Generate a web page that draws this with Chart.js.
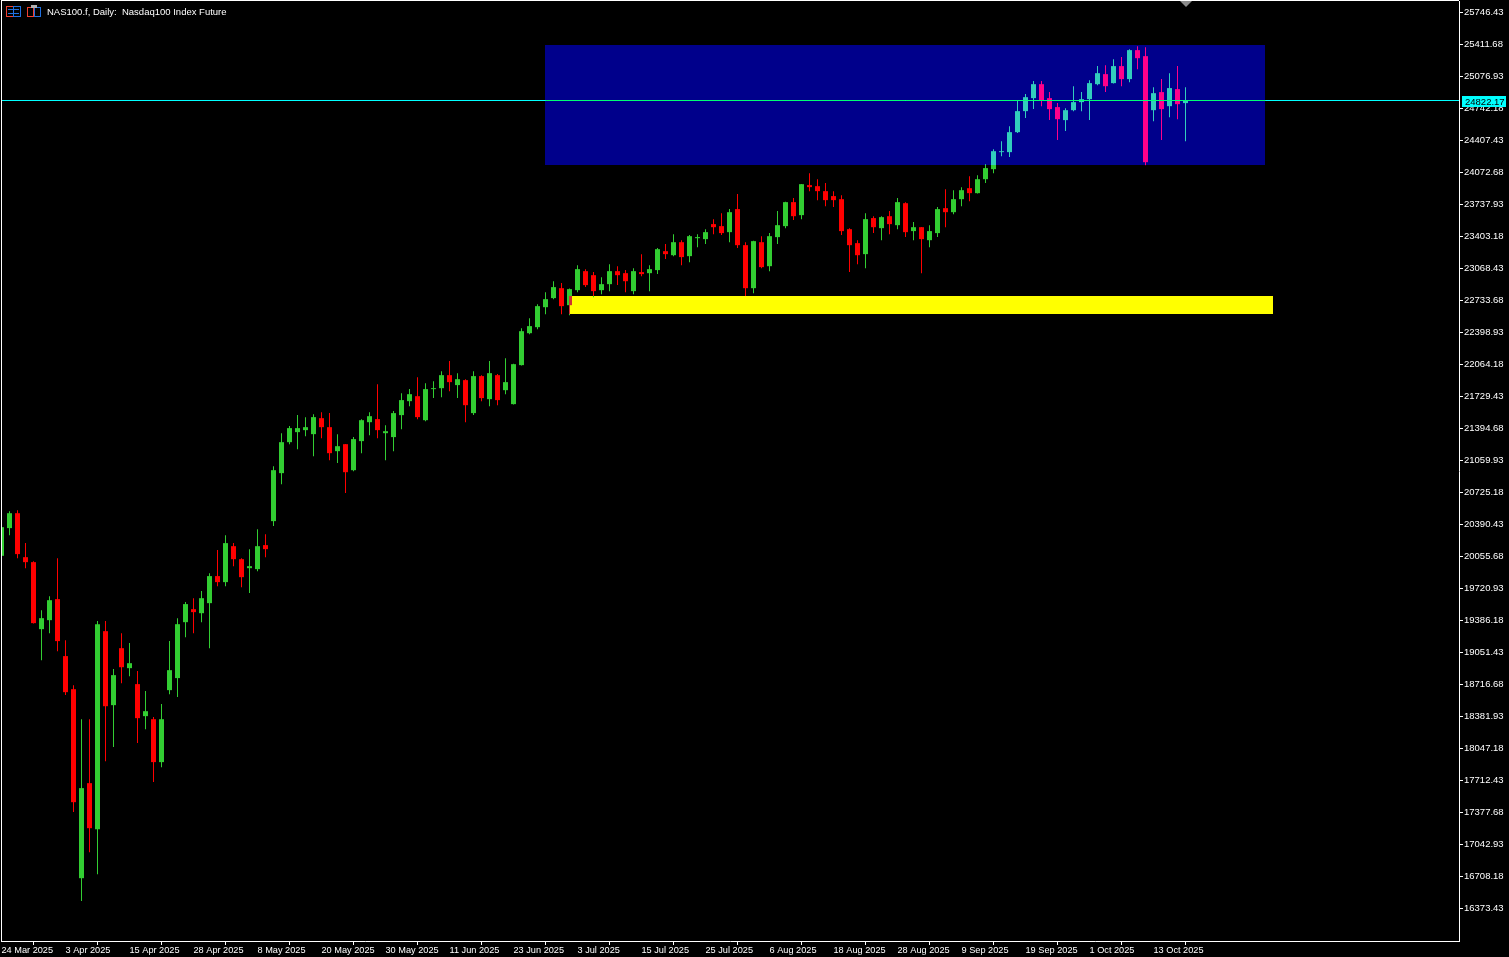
<!DOCTYPE html>
<html lang="en">
<head>
    <meta charset="UTF-8">
    <title>NAS100.f, Daily</title>
    <script src="https://cdn.jsdelivr.net/npm/chart.js"></script>
    <style>
        html, body { margin: 0; padding: 0; background: #000; overflow: hidden; }
        canvas { display: block; }
    </style>
</head>
<body>
    <canvas id="priceChart" width="1509" height="957"></canvas>

    <script>
        const openPrices = [
            20059,20349,20505,20045,19993,19292,19386,19606,19010,18664,
            16687,17681,17200,19271,18497,19093,18884,18717,18382,18350,
            17901,18654,18780,19365,19501,19459,19564,19847,19784,20160,
            20024,19930,19920,20171,20422,20924,21248,21353,21374,21332,
            21499,21405,21154,21227,20955,21259,21457,21489,21342,21301,
            21531,21677,21729,21478,21803,21813,21949,21845,21897,21552,
            21939,21698,21949,21792,21646,22054,22388,22451,22660,22755,
            22859,22681,22838,23037,22995,22838,22901,23037,23016,22828,
            23027,23016,23048,23246,23204,23340,23194,23382,23372,23529,
            23508,23445,23686,23309,22859,23340,23089,23393,23508,23759,
            23623,23937,23926,23874,23822,23790,23476,23330,23215,23592,
            23487,23612,23518,23748,23456,23497,23361,23435,23696,23654,
            23790,23905,23853,23999,24104,24282,24282,24491,24711,24847,
            24993,24847,24753,24617,24721,24805,24836,24993,25098,25004,
            25182,25046,25349,25286,24721,24910,24763,24941,24795
        ];
        const closePrices = [
            20359,20505,20077,19993,19355,19407,19595,19167,18633,17482,
            17629,17210,19344,18486,18811,18894,18936,18361,18434,17901,
            18350,18863,19344,19554,19470,19616,19847,19784,20192,20024,
            19836,19951,20160,20129,20955,21248,21395,21395,21405,21510,
            21405,21133,21206,20934,21280,21478,21520,21374,21363,21552,
            21688,21750,21510,21803,21813,21949,21876,21907,21635,21939,
            21709,21970,21688,21876,22064,22409,22462,22671,22744,22870,
            22671,22849,23058,22891,22828,22901,23037,22995,22932,23037,
            23006,23058,23267,23215,23340,23184,23403,23393,23445,23497,
            23435,23654,23309,22859,23351,23079,23403,23518,23759,23612,
            23947,23916,23874,23780,23780,23456,23309,23204,23581,23497,
            23602,23529,23759,23445,23497,23372,23456,23686,23654,23790,
            23884,23853,23999,24115,24292,24292,24491,24711,24857,24993,
            24826,24732,24627,24721,24805,24836,25004,25108,24972,25182,
            25046,25349,25265,24177,24899,24732,24952,24784,24822
        ];
        const highPrices = [
            20365,20526,20537,20192,20003,19491,19637,20035,19177,18706,
            18350,18350,19376,19376,18874,19250,19146,18853,18644,18372,
            18508,19167,19407,19575,19616,19690,19878,20119,20275,20192,
            20035,20129,20338,20286,20997,21342,21416,21531,21510,21541,
            21562,21552,21332,21230,21301,21489,21562,21855,21426,21573,
            21761,21803,21928,21865,21886,21991,22096,21970,21907,21991,
            21949,22096,21960,22127,22068,22441,22545,22692,22817,22932,
            22912,22855,23100,23058,23027,22974,23110,23089,23048,23068,
            23215,23100,23278,23320,23424,23361,23414,23424,23476,23581,
            23644,23686,23843,23340,23354,23403,23435,23665,23762,23801,
            23950,24062,23999,23958,23874,23832,23487,23361,23644,23612,
            23612,23665,23801,23759,23550,23500,23518,23707,23895,23884,
            23916,24031,24041,24156,24313,24397,24554,24826,24889,25025,
            25025,24910,24795,24742,24972,24910,25035,25182,25192,25255,
            25276,25359,25391,25380,24962,25046,25108,25182,24962
        ];
        const lowPrices = [
            20055,20275,20035,19930,19352,18968,19250,19062,18602,17378,
            16447,16959,16729,17911,18058,18727,18800,18100,18246,17692,
            17848,18612,18581,19208,19250,19365,19093,19742,19742,19951,
            19731,19669,19899,20045,20370,20809,21227,21175,21311,21102,
            21290,21060,21029,20715,20945,21133,21321,21290,21060,21154,
            21384,21625,21489,21468,21709,21719,21782,21709,21457,21531,
            21677,21625,21635,21750,21642,22050,22378,22430,22587,22744,
            22587,22577,22817,22870,22765,22796,22828,22891,22817,22796,
            22985,22828,23006,23163,23194,23100,23131,23288,23320,23424,
            23414,23340,23278,22776,22807,23068,23037,23320,23487,23571,
            23581,23874,23780,23717,23707,23414,23027,23110,23068,23435,
            23361,23424,23476,23393,23361,23016,23288,23393,23497,23633,
            23717,23769,23850,23958,24062,24240,24230,24481,24638,24732,
            24763,24617,24408,24502,24711,24711,24617,24983,24910,25000,
            24972,25014,25150,24146,24606,24408,24648,24627,24397
        ];

        const dateLabels = ['24 Mar 2025','3 Apr 2025','15 Apr 2025','28 Apr 2025','8 May 2025','20 May 2025','30 May 2025','11 Jun 2025','23 Jun 2025','3 Jul 2025','15 Jul 2025','25 Jul 2025','6 Aug 2025','18 Aug 2025','28 Aug 2025','9 Sep 2025','19 Sep 2025','1 Oct 2025','13 Oct 2025'];
        const dateTickBars = [0,8,16,24,32,40,48,56,64,72,80,88,96,104,112,120,128,136,144];
        const priceTicks = [25746.43,25411.68,25076.93,24742.18,24407.43,24072.68,23737.93,23403.18,23068.43,22733.68,22398.93,22064.18,21729.43,21394.68,21059.93,20725.18,20390.43,20055.68,19720.93,19386.18,19051.43,18716.68,18381.93,18047.18,17712.43,17377.68,17042.93,16708.18,16373.43];

        const lastPrice = 24822.17;
        const blueBars = [68, 158];
        const bluePrices = [24146, 25401];
        const yellowBars = [71, 159];
        const yellowPrices = [22587, 22775];

        const GREEN = '#32CD32';
        const RED = '#FF0000';
        const FONT = '9.5px "Liberation Sans"';

        function candleColors() {
            return openPrices.map((o, i) => closePrices[i] >= o ? GREEN : RED);
        }

        // boxes are blended over the candles, like the terminal's xor drawing
        function drawBox(chart, bars, prices, color, mode) {
            const { ctx, chartArea, scales } = chart;
            const x1 = Math.floor(scales.x.getPixelForValue(bars[0]));
            const x2 = Math.floor(scales.x.getPixelForValue(bars[1]));
            const y1 = Math.round(scales.y.getPixelForValue(prices[1]));
            const y2 = Math.round(scales.y.getPixelForValue(prices[0]));
            ctx.save();
            ctx.beginPath();
            ctx.rect(chartArea.left, chartArea.top, chartArea.width, chartArea.height);
            ctx.clip();
            ctx.globalCompositeOperation = mode;
            ctx.fillStyle = color;
            ctx.fillRect(x1, y1, x2 - x1, y2 - y1);
            ctx.restore();
        }

        const terminalOverlay = {
            id: 'terminalOverlay',
            afterDatasetDraw(chart, args) {
                if (args.index !== 1) return;
                drawBox(chart, blueBars, bluePrices, '#00008B', 'lighter');
                drawBox(chart, yellowBars, yellowPrices, '#FFFF00', 'difference');
            },
            afterDraw(chart) {
                const { ctx, chartArea, scales } = chart;
                ctx.save();

                // frame, left and top
                ctx.fillStyle = '#fff';
                ctx.fillRect(chartArea.left, 0, chartArea.width, 1);
                ctx.fillRect(chartArea.left, 0, 1, chartArea.bottom);

                // shift marker
                const sx = Math.round(scales.x.getPixelForValue(148));
                ctx.fillStyle = '#8c8c8c';
                ctx.beginPath();
                ctx.moveTo(sx - 6, 1);
                ctx.lineTo(sx + 6, 1);
                ctx.lineTo(sx, 7);
                ctx.closePath();
                ctx.fill();

                // last price tag
                const py = Math.round(scales.y.getPixelForValue(lastPrice));
                ctx.fillStyle = '#00FFFF';
                ctx.fillRect(1462, py - 5, 44, 11);
                ctx.fillStyle = '#000';
                ctx.font = FONT;
                ctx.textBaseline = 'middle';
                ctx.fillText(lastPrice.toFixed(2), 1465, py + 1);

                // header icons
                ctx.lineWidth = 1;
                ctx.strokeStyle = '#F04030';
                ctx.strokeRect(6.5, 6.5, 7, 10);
                ctx.strokeRect(27.5, 7.5, 6, 9);
                ctx.strokeStyle = '#2070E0';
                ctx.strokeRect(13.5, 6.5, 7, 10);
                ctx.strokeRect(34.5, 7.5, 6, 9);
                ctx.beginPath();
                [9.5, 13.5].forEach(y => { ctx.moveTo(8, y); ctx.lineTo(19, y); });
                ctx.stroke();
                ctx.fillStyle = '#b0b0b0';
                ctx.fillRect(31, 5, 6, 3);

                // title
                ctx.fillStyle = '#fff';
                ctx.fillText('NAS100.f, Daily:  Nasdaq100 Index Future', 47, 12);
                ctx.restore();
            }
        };

        function drawChart() {
            const ctx = document.getElementById('priceChart').getContext('2d');
            const colors = candleColors();
            new Chart(ctx, {
                data: {
                    datasets: [
                        {
                            type: 'bar',
                            label: 'wicks',
                            data: lowPrices.map((l, i) => ({ x: i, y: [l, highPrices[i]] })),
                            backgroundColor: colors,
                            barThickness: 1,
                            grouped: false,
                            inflateAmount: 0,
                            borderWidth: 0,
                            order: 3
                        },
                        {
                            type: 'bar',
                            label: 'bodies',
                            data: openPrices.map((o, i) => ({ x: i, y: [o, closePrices[i]] })),
                            backgroundColor: colors,
                            barThickness: 5,
                            grouped: false,
                            inflateAmount: 0,
                            borderWidth: 0,
                            order: 2
                        },
                        {
                            type: 'line',
                            label: 'last',
                            data: [{ x: -1, y: lastPrice }, { x: 183, y: lastPrice }],
                            borderColor: '#00FFFF',
                            borderWidth: 1,
                            pointRadius: 0,
                            order: 1
                        },
                        {
                            type: 'line',
                            label: 'last in box',
                            data: [{ x: blueBars[0], y: lastPrice }, { x: blueBars[1], y: lastPrice }],
                            borderColor: '#00FF74',
                            borderWidth: 1,
                            pointRadius: 0,
                            order: 0
                        }
                    ]
                },
                options: {
                    responsive: false,
                    animation: false,
                    devicePixelRatio: 1,
                    layout: { autoPadding: false, padding: { left: 1, top: 1, right: 0, bottom: 0 } },
                    plugins: { legend: { display: false }, tooltip: { enabled: false } },
                    scales: {
                        x: {
                            type: 'linear',
                            position: 'bottom',
                            offset: false,
                            min: -0.0625,
                            max: 182.1875,
                            afterFit(scale) { scale.height = 16; scale.paddingLeft = 0; scale.paddingRight = 0; },
                            afterBuildTicks(scale) { scale.ticks = dateTickBars.map(v => ({ value: v })); },
                            grid: { drawOnChartArea: false, color: '#fff', tickLength: 4 },
                            border: { color: '#fff' },
                            ticks: {
                                color: '#fff',
                                font: { family: 'Liberation Sans', size: 9.2 },
                                align: 'start',
                                padding: 0,
                                maxRotation: 0,
                                autoSkip: false,
                                callback: v => dateLabels[dateTickBars.indexOf(v)]
                            }
                        },
                        y: {
                            type: 'linear',
                            position: 'right',
                            min: 16029.8,
                            max: 25863.07,
                            afterFit(scale) { scale.width = 50; scale.paddingTop = 0; scale.paddingBottom = 0; },
                            afterBuildTicks(scale) { scale.ticks = priceTicks.map(v => ({ value: v })); },
                            grid: { drawOnChartArea: false, color: '#fff', tickLength: 4 },
                            border: { color: '#fff' },
                            ticks: {
                                color: '#fff',
                                font: { family: 'Liberation Sans', size: 9.5 },
                                padding: 1,
                                autoSkip: false,
                                callback: v => v.toFixed(2)
                            }
                        }
                    }
                },
                plugins: [terminalOverlay]
            });
        }

        document.addEventListener('DOMContentLoaded', drawChart);
    </script>
</body>
</html>
